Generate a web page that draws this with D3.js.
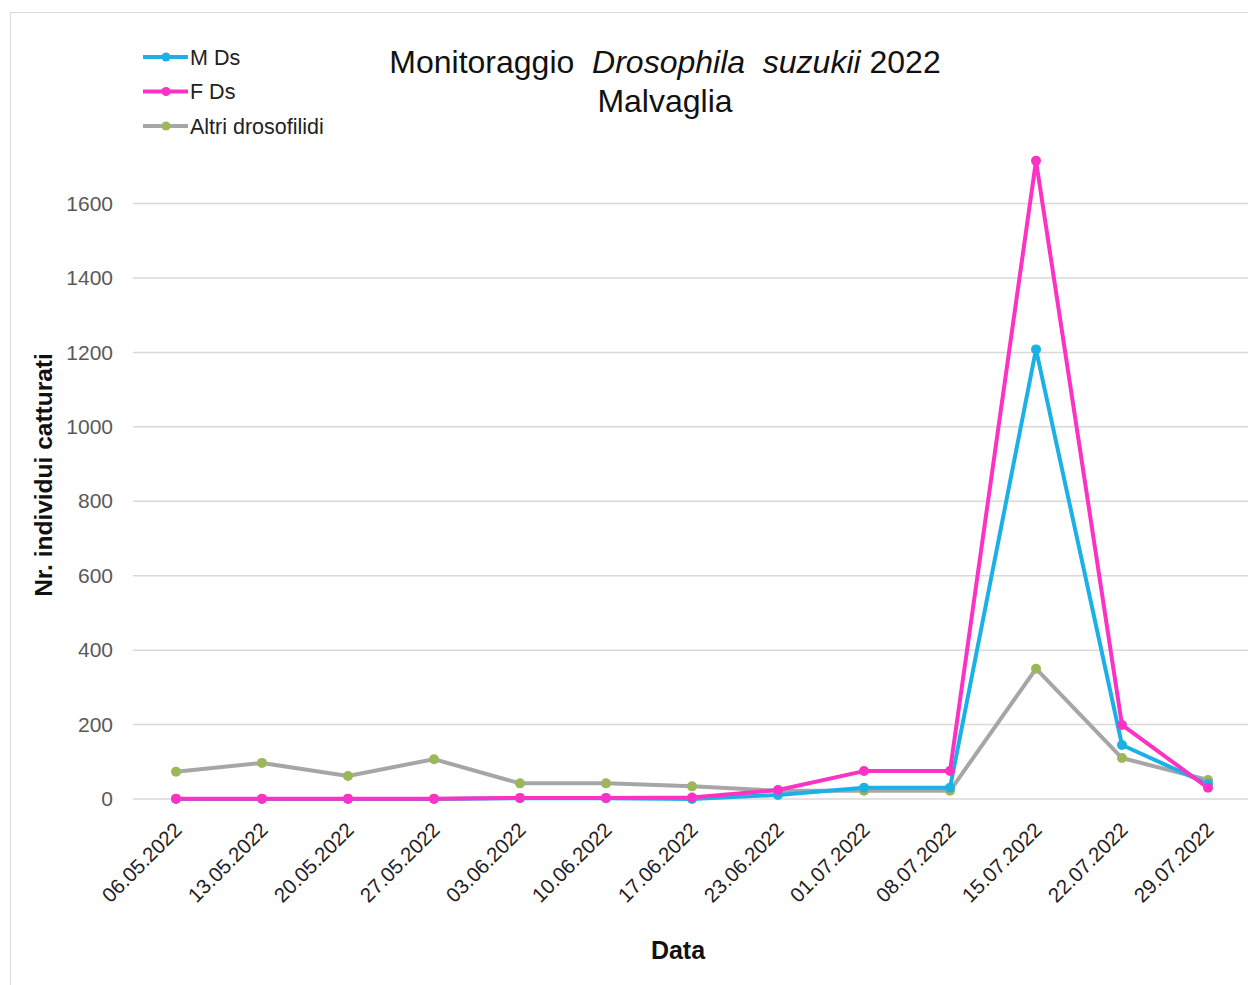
<!DOCTYPE html>
<html><head><meta charset="utf-8">
<script src="https://cdn.jsdelivr.net/npm/d3@7/dist/d3.min.js"></script>
<style>body{margin:0;background:#fff}svg{display:block;font-family:"Liberation Sans",Arial,sans-serif}</style>
</head><body>
<svg id="c" width="1248" height="985"></svg>
<script>
const dates = ["06.05.2022","13.05.2022","20.05.2022","27.05.2022","03.06.2022","10.06.2022","17.06.2022","23.06.2022","01.07.2022","08.07.2022","15.07.2022","22.07.2022","29.07.2022"];
const mDs = [0,0,0,0,2,2,0,11,30,30,1208,145,40];
const fDs = [1,1,1,1,3,3,4,24,75,75,1715,199,30];
const altri = [73,97,62,107,42,42,34,22,22,22,350,110,51];
const yTicks = [0,200,400,600,800,1000,1200,1400,1600];
const seriesNames = ["M Ds","F Ds","Altri drosofilidi"];

const svg = d3.select("#c");
svg.append("rect").attr("x",10.5).attr("y",12.5).attr("width",1300).attr("height",1000)
  .attr("fill","#fff").attr("stroke","#d9d9d9");

const x = d3.scaleBand().domain(dates).range([133,1251]);
const y = d3.scaleLinear().domain([0,1600]).range([799,203.5]);
const cx = d => x(d)+x.bandwidth()/2;

// gridlines
svg.append("g").selectAll("line").data(yTicks).join("line")
  .attr("x1",133).attr("x2",1251).attr("y1",d=>y(d)).attr("y2",d=>y(d))
  .attr("stroke","#d9d9d9").attr("stroke-width",1.5);

// y axis labels
const yAxis = d3.axisLeft(y).tickValues(yTicks).tickFormat(d3.format("d")).tickSize(0).tickPadding(0);
const gy = svg.append("g").attr("transform","translate(113,0)").call(yAxis);
gy.select(".domain").remove();
gy.selectAll("text").attr("font-size",21).attr("fill","#595959").attr("font-family","Liberation Sans, Arial, sans-serif");

// x axis labels
const xAxis = d3.axisBottom(x).tickSize(0).tickPadding(0);
const gx = svg.append("g").attr("transform","translate(0,0)").call(xAxis);
gx.select(".domain").remove();
gx.selectAll(".tick").attr("transform",d=>`translate(${cx(d)+2},826)`);
gx.selectAll("text").attr("font-size",20.5).attr("fill","#222").attr("font-family","Liberation Sans, Arial, sans-serif")
  .attr("text-anchor","end").attr("y",0).attr("dy","0.35em").attr("transform","rotate(-45)");

const series = [
  {name:seriesNames[0], vals:mDs, color:"#1cb1e6", mk:"#1cb1e6"},
  {name:seriesNames[1], vals:fDs, color:"#fb32c4", mk:"#fb32c4"},
  {name:seriesNames[2], vals:altri, color:"#a6a6a6", mk:"#9bb75a"}
];
const drawOrder = [series[2], series[0], series[1]];
const line = d3.line().x((v,i)=>cx(dates[i])).y(v=>y(v));
drawOrder.forEach(s=>{
  svg.append("path").datum(s.vals).attr("d",line).attr("fill","none")
    .attr("stroke",s.color).attr("stroke-width",4).attr("stroke-linejoin","round");
});
drawOrder.forEach(s=>{
  svg.append("g").selectAll("circle").data(s.vals).join("circle")
    .attr("cx",(v,i)=>cx(dates[i])).attr("cy",v=>y(v)).attr("r",5).attr("fill",s.mk);
});

// legend
series.forEach((s,i)=>{
  const ly = 57 + i*34.5;
  svg.append("line").attr("x1",143).attr("x2",188).attr("y1",ly).attr("y2",ly)
    .attr("stroke",s.color).attr("stroke-width",4);
  svg.append("circle").attr("cx",166).attr("cy",ly).attr("r",4.5).attr("fill",s.mk);
  svg.append("text").attr("x",190).attr("y",ly).attr("dy","0.35em").attr("font-size",21.5)
    .attr("fill","#222").text(s.name);
});

// title
const t = svg.append("text").attr("x",665).attr("y",73).attr("text-anchor","middle")
  .attr("font-size",32).attr("fill","#111").style("white-space","pre");
t.append("tspan").text("Monitoraggio  ");
t.append("tspan").attr("font-style","italic").text("Drosophila  suzukii");
t.append("tspan").text(" 2022");
svg.append("text").attr("x",665).attr("y",112).attr("text-anchor","middle")
  .attr("font-size",32).attr("fill","#111").text("Malvaglia");

// axis titles
svg.append("text").attr("transform","translate(52,475) rotate(-90)").attr("text-anchor","middle")
  .attr("font-size",24.5).attr("font-weight","bold").attr("fill","#111").text("Nr. individui catturati");
svg.append("text").attr("x",678).attr("y",959).attr("text-anchor","middle")
  .attr("font-size",25).attr("font-weight","bold").attr("fill","#111").text("Data");
</script>
</body></html>
